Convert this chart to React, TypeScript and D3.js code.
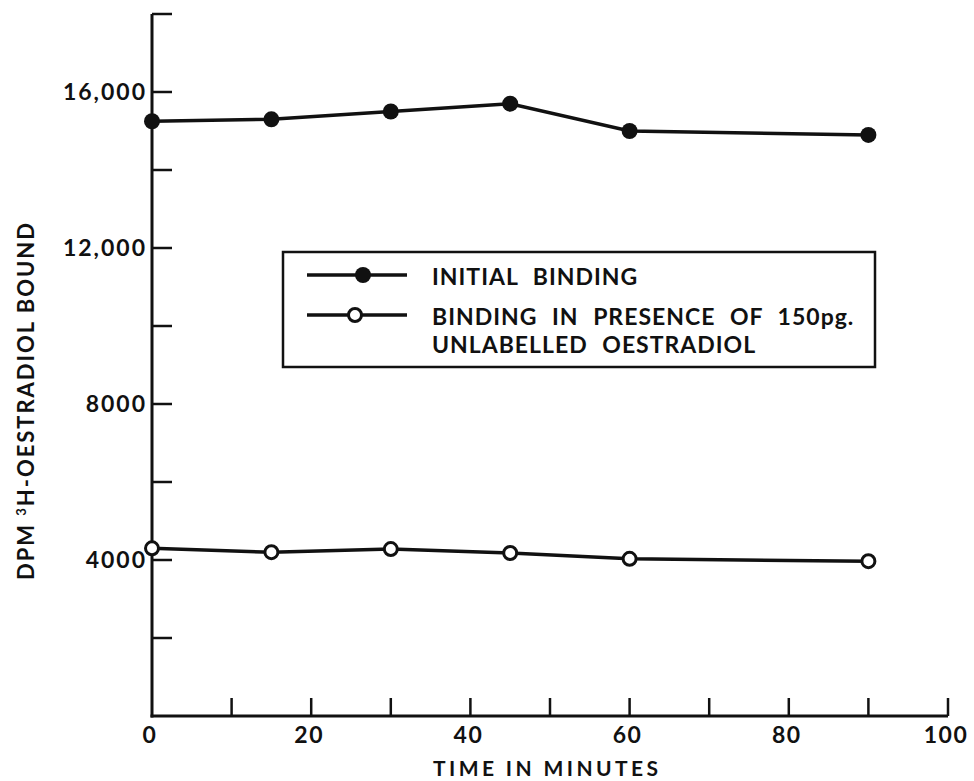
import React from "react";
import * as d3 from "d3";

const times = [0, 15, 30, 45, 60, 90];
const initialBinding = [15250, 15300, 15500, 15700, 15000, 14900];
const competedBinding = [4300, 4200, 4280, 4180, 4030, 3970];

const xTicks = [10, 20, 30, 40, 50, 60, 70, 80, 90, 100];
const xTickLabels = ["0", "20", "40", "60", "80", "100"];
const xLabelValues = [0, 20, 40, 60, 80, 100];
const yTicks = [2000, 4000, 6000, 8000, 10000, 12000, 14000, 16000, 18000];
const yLabelValues = [4000, 8000, 12000, 16000];
const yTickLabels = ["4000", "8000", "12,000", "16,000"];

const legendLabels = ["INITIAL BINDING", "BINDING IN PRESENCE OF 150pg.", "UNLABELLED OESTRADIOL"];

const W = 974;
const H = 781;
const FONT = "Lato, 'DejaVu Sans', sans-serif";

export default function App() {
  const x = d3.scaleLinear().domain([0, 100]).range([152, 948]);
  const y = d3.scaleLinear().domain([0, 18000]).range([716, 14]);

  const line = d3
    .line<[number, number]>()
    .x((d) => x(d[0]))
    .y((d) => y(d[1]));

  const filledPts: [number, number][] = times.map((t, i) => [t, initialBinding[i]]);
  const openPts: [number, number][] = times.map((t, i) => [t, competedBinding[i]]);

  const ink = "#111";
  const legendRows = [277, 317, 345];

  return (
    <svg
      width={W}
      height={H}
      viewBox={`0 0 ${W} ${H}`}
      style={{ position: "absolute", left: 0, top: 0, background: "#fff" }}
    >
      <rect width={W} height={H} fill="#fff" />

      {/* axes */}
      <line x1={x(0)} x2={x(0)} y1={y(0) + 1.5} y2={y(18000)} stroke={ink} strokeWidth={3} />
      <line x1={x(0) - 1.5} x2={x(100)} y1={y(0)} y2={y(0)} stroke={ink} strokeWidth={3} />

      {yTicks.map((v) => (
        <line key={"yt" + v} x1={x(0)} x2={x(0) + 20} y1={y(v)} y2={y(v)} stroke={ink} strokeWidth={2.5} />
      ))}
      {xTicks.map((v) => (
        <line key={"xt" + v} x1={x(v)} x2={x(v)} y1={y(0)} y2={y(0) - 18} stroke={ink} strokeWidth={2.5} />
      ))}

      {yLabelValues.map((v, i) => (
        <text
          key={"yl" + v}
          x={x(0) - 5}
          y={y(v)}
          dy="0.36em"
          textAnchor="end"
          fontFamily={FONT}
          fontWeight="bold"
          fontSize={23}
          fill={ink}
          letterSpacing={2}
        >
          {yTickLabels[i]}
        </text>
      ))}
      {xLabelValues.map((v, i) => (
        <text
          key={"xl" + v}
          x={x(v) - 2}
          y={y(0) + 19}
          dy="0.36em"
          textAnchor="middle"
          fontFamily={FONT}
          fontWeight="bold"
          fontSize={23}
          fill={ink}
          letterSpacing={1.5}
        >
          {xTickLabels[i]}
        </text>
      ))}

      {/* axis titles */}
      <text
        x={433}
        y={768}
        dy="0.36em"
        fontFamily={FONT}
        fontWeight="bold"
        fontSize={21}
        fill={ink}
        textLength={225}
        lengthAdjust="spacing"
      >
        TIME IN MINUTES
      </text>
      <text
        transform="translate(26,580) rotate(-90)"
        dy="0.36em"
        fontFamily={FONT}
        fontWeight="bold"
        fontSize={22}
        fill={ink}
        textLength={357}
        lengthAdjust="spacing"
      >
        DPM <tspan baselineShift="super" fontSize={13}>3</tspan>H-OESTRADIOL BOUND
      </text>

      {/* series */}
      <path d={line(filledPts) || ""} fill="none" stroke={ink} strokeWidth={3.5} />
      <path d={line(openPts) || ""} fill="none" stroke={ink} strokeWidth={3.5} />
      {filledPts.map((d, i) => (
        <circle key={"f" + i} cx={x(d[0])} cy={y(d[1])} r={8} fill={ink} />
      ))}
      {openPts.map((d, i) => (
        <circle key={"o" + i} cx={x(d[0])} cy={y(d[1])} r={6.5} fill="#fff" stroke={ink} strokeWidth={3} />
      ))}

      {/* legend */}
      <rect x={283} y={252} width={592} height={115} fill="#fff" stroke={ink} strokeWidth={2.5} />
      <line x1={307} x2={407} y1={275} y2={275} stroke={ink} strokeWidth={3.5} />
      <circle cx={363} cy={275} r={8} fill={ink} />
      <line x1={307} x2={407} y1={315} y2={315} stroke={ink} strokeWidth={3.5} />
      <circle cx={355} cy={315} r={6.5} fill="#fff" stroke={ink} strokeWidth={3} />
      {legendLabels.map((t, i) => (
        <text
          key={"lg" + i}
          x={432}
          y={legendRows[i]}
          dy="0.36em"
          fontFamily={FONT}
          fontWeight="bold"
          fontSize={23}
          fill={ink}
          letterSpacing={1}
          wordSpacing={8}
        >
          {t}
        </text>
      ))}
    </svg>
  );
}
